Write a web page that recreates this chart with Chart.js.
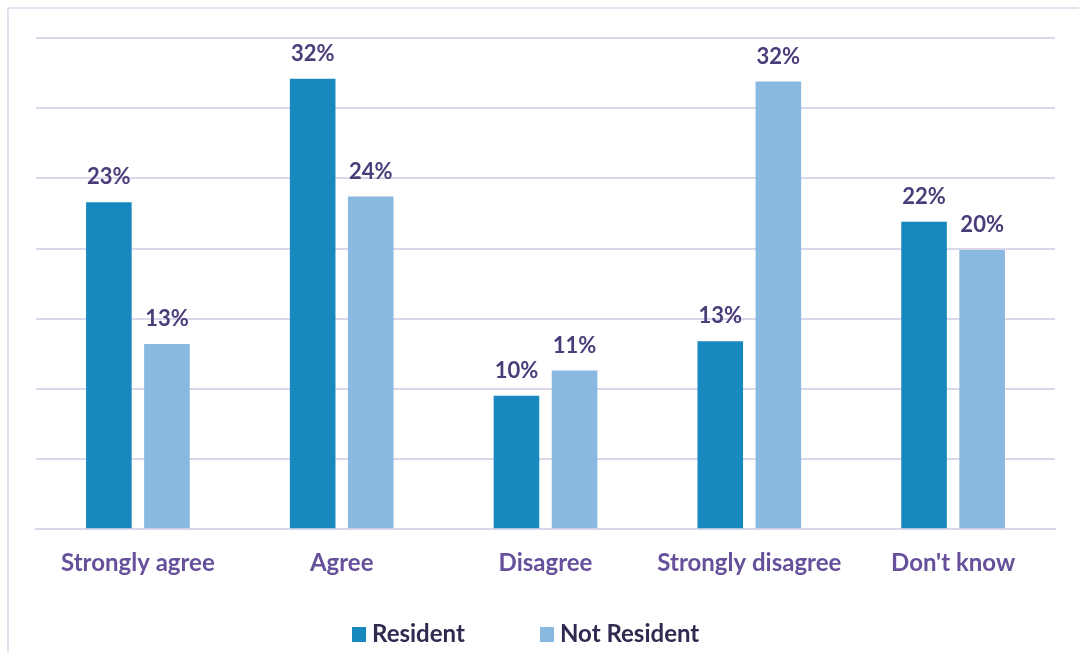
<!DOCTYPE html>
<html>
<head>
<meta charset="utf-8">
<script src="https://cdn.jsdelivr.net/npm/chart.js@4.4.0/dist/chart.umd.min.js"></script>
<style>
    html, body { margin: 0; padding: 0; background: #fff; }
    #wrap { position: relative; width: 1079px; height: 652px; overflow: hidden; }
    #legend { position: absolute; left: 0; top: 618px; width: 1079px; height: 30px; font-family: Lato, sans-serif; font-weight: bold; font-size: 24px; color: #2f2a4f; }
    #legend span.item { position: absolute; top: 0; white-space: nowrap; line-height: 30px; }
    #legend span.box { display: inline-block; width: 14px; height: 15px; margin-right: 6px; vertical-align: 0px; }
</style>
</head>
<body>
<div id="wrap">
    <canvas id="barChart"></canvas>
    <div id="legend"></div>
</div>
<script>
// chart data
var categories = ['Strongly agree', 'Agree', 'Disagree', 'Strongly disagree', "Don't know"];
var residentValues = [23.3, 32.1, 9.5, 13.4, 21.9];
var notResidentValues = [13.2, 23.7, 11.3, 31.9, 19.9];
var seriesNames = ['Resident', 'Not Resident'];
var seriesColors = ['#1789bf', '#89b8e0'];

var gridColor = '#dcd6ea';
var labelColor = '#4b3c7a';

// value labels above each bar
var barLabels = {
    id: 'barLabels',
    afterDatasetsDraw: function (chart) {
        var ctx = chart.ctx;
        ctx.save();
        ctx.font = 'bold 22px Lato, sans-serif';
        ctx.fillStyle = labelColor;
        ctx.textAlign = 'center';
        ctx.textBaseline = 'alphabetic';
        chart.data.datasets.forEach(function (ds, i) {
            chart.getDatasetMeta(i).data.forEach(function (bar, j) {
                ctx.fillText(Math.round(ds.data[j]) + '%', bar.x, bar.y - 18);
            });
        });
        ctx.restore();
    }
};

// light frame round the chart (top and left edges show)
var frame = {
    id: 'frame',
    beforeDraw: function (chart) {
        var ctx = chart.ctx;
        ctx.save();
        ctx.strokeStyle = gridColor;
        ctx.lineWidth = 1.5;
        ctx.beginPath();
        ctx.moveTo(8, chart.height);
        ctx.lineTo(8, 8);
        ctx.lineTo(chart.width, 8);
        ctx.stroke();
        ctx.restore();
    }
};

var ctx = document.getElementById('barChart').getContext('2d');
new Chart(ctx, {
    type: 'bar',
    data: {
        labels: categories,
        datasets: [
            { label: seriesNames[0], data: residentValues, backgroundColor: seriesColors[0] },
            { label: seriesNames[1], data: notResidentValues, backgroundColor: seriesColors[1] }
        ]
    },
    options: {
        responsive: true,
        maintainAspectRatio: false,
        animation: false,
        categoryPercentage: 0.57,
        barPercentage: 0.785,
        layout: { padding: { left: 36, right: 24, top: 38, bottom: 54 } },
        plugins: {
            legend: { display: false },
            tooltip: { enabled: false }
        },
        scales: {
            x: {
                grid: { display: false, drawTicks: false },
                border: { display: true, color: gridColor, width: 2 },
                ticks: {
                    padding: 20,
                    color: '#66509b',
                    font: { family: 'Lato, sans-serif', size: 24, weight: 'bold' }
                }
            },
            y: {
                min: 0,
                max: 35,
                ticks: { display: false, stepSize: 5 },
                grid: { color: gridColor, lineWidth: 2, drawTicks: false },
                border: { display: false }
            }
        }
    },
    plugins: [barLabels, frame]
});

// legend below the chart
var legendPos = [352, 540];
var legend = document.getElementById('legend');
seriesNames.forEach(function (name, i) {
    var item = document.createElement('span');
    item.className = 'item';
    item.style.left = legendPos[i] + 'px';
    item.innerHTML = '<span class="box" style="background:' + seriesColors[i] + '"></span>' + name;
    legend.appendChild(item);
});
</script>
</body>
</html>
